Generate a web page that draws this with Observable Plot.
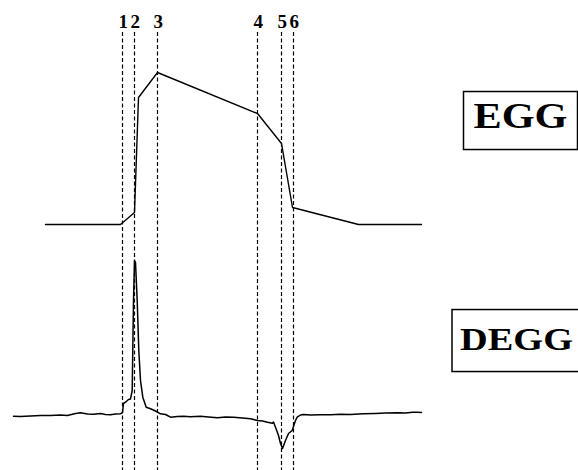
<!DOCTYPE html>
<html>
<head>
<meta charset="utf-8">
<script src="https://cdn.jsdelivr.net/npm/d3@7"></script>
<script src="https://cdn.jsdelivr.net/npm/@observablehq/plot@0.6"></script>
<style>
  html, body { margin: 0; padding: 0; background: #fff; }
  #chart svg { display: block; }
</style>
</head>
<body>
<div id="chart"></div>
<script>
// ---- Data (time in arbitrary samples, amplitude in arbitrary units) ----
const eventTimes  = [110, 122, 145, 245, 269, 281];
const eventLabels = ["1", "2", "3", "4", "5", "6"];

const eggTime = [33, 108, 122, 126, 145, 245, 269, 280, 346, 409];
const eggAmp  = [0, 0, 12, 127, 152, 111, 81, 17, 0, 0];

const deggTime = [1, 8, 18, 28, 38, 48, 55, 63, 68, 75, 81, 88, 93, 98, 103, 108, 110, 111, 113, 116, 118,
  119.7, 121, 122, 123, 124.7, 126.3, 128, 130.3, 133.7, 138, 143, 148, 153, 158, 165, 171, 178, 188, 196,
  205, 213, 221, 230, 238, 245, 250, 255, 260, 261, 263, 266, 268, 270, 271.5, 273, 276, 279.7, 281.3, 283,
  284.7, 288, 291, 298, 308, 318, 328, 338, 351, 363, 373, 385, 393, 400, 405, 409];
const deggAmp = [-2.7, -3, -2.5, -2, -2, -1.5, -2, 0, 0.7, -0.5, -0.7, 0, -1, -1.3, -0.5, -0.3, 1, 10, 11.3, 14, 14.5,
  23, 113, 153, 151, 113, 63, 33, 16.3, 6.3, 4.7, 2.5, -0.3, -1, -3.7, -3, -2.7, -3.2, -2.7, -3.5,
  -4.3, -3.5, -3.7, -4.5, -5.3, -7, -7.5, -8.7, -9.7, -8.5, -13.7, -22, -30, -35, -31, -27, -20, -17, -12,
  -7, -3.7, -1.5, -1, -1.5, -1.2, -1.3, -0.8, -1, -0.3, 0, 0.4, 0.7, 0.5, 1.2, 1.3, 1];

const traceNames = ["EGG", "DEGG"];

// ---- Build tables ----
const EGG_BASE = 189; // vertical offset of the EGG trace above the DEGG trace
const egg = eggTime.map((t, i) => ({t, v: eggAmp[i]}));
const degg = deggTime.map((t, i) => ({t, v: deggAmp[i]}));
const events = eventTimes.map((t, i) => ({t, label: eventLabels[i]}));

const serif = "'Liberation Serif', 'Times New Roman', serif";

const plot = Plot.plot({
  width: 578,
  height: 470,
  margin: 0,
  style: {background: "#fff"},
  x: {domain: [-12, 566], axis: null},
  y: {domain: [-57, 413], axis: null},
  marks: [
    Plot.ruleX(events, {x: "t", insetTop: 32, stroke: "#000", strokeWidth: 1.2, strokeDasharray: "4,2.5"}),
    Plot.text(events, {x: "t", text: "label", frameAnchor: "top", lineAnchor: "middle", textAnchor: "start",
      dy: 21, dx: -4, fontFamily: serif, fontWeight: "bold", fontSize: 19, fill: "#000"}),
    Plot.line(egg, {x: "t", y: d => d.v + EGG_BASE, stroke: "#000", strokeWidth: 1.4}),
    Plot.line(degg, {x: "t", y: "v", stroke: "#000", strokeWidth: 1.5}),
    Plot.text([traceNames[0]], {text: d => d, frameAnchor: "top-left", lineAnchor: "middle", dx: 520, dy: 115.5,
      textAnchor: "middle", fontFamily: serif, fontWeight: "bold", fontSize: 36, fill: "#000",
      className: "trace-label-egg"}),
    Plot.text([traceNames[1]], {text: d => d, frameAnchor: "top-left", lineAnchor: "middle", dx: 516, dy: 338.8,
      textAnchor: "middle", fontFamily: serif, fontWeight: "bold", fontSize: 32, fill: "#000",
      className: "trace-label-degg"})
  ]
});

document.getElementById("chart").appendChild(plot);

// stretch labels and draw boxes around them (box edges relative to text baseline / bbox)
const boxes = [
  {cls: "trace-label-egg", len: 94, pl: 10, pr: 10, above: 36, below: 22},
  {cls: "trace-label-degg", len: 113, pl: 8, pr: 6, above: 40, below: 22}
];
for (const b of boxes) {
  const g = plot.querySelector("g." + b.cls);
  if (!g) continue;
  g.querySelectorAll("text").forEach(t => {
    t.setAttribute("textLength", b.len);
    t.setAttribute("lengthAdjust", "spacingAndGlyphs");
    const bb = t.getBBox();
    const base = t.getStartPositionOfChar(0).y;
    const ctm = t.getAttribute("transform");
    const rect = document.createElementNS("http://www.w3.org/2000/svg", "rect");
    rect.setAttribute("x", bb.x - b.pl);
    rect.setAttribute("y", base - b.above);
    rect.setAttribute("width", bb.width + b.pl + b.pr);
    rect.setAttribute("height", b.above + b.below);
    rect.setAttribute("fill", "none");
    rect.setAttribute("stroke", "#000");
    rect.setAttribute("stroke-width", 1.5);
    if (ctm) rect.setAttribute("transform", ctm);
    t.parentNode.insertBefore(rect, t);
  });
}
</script>
</body>
</html>
